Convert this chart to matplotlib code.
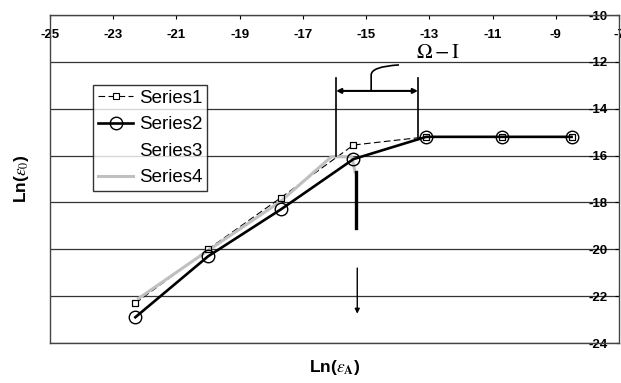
import matplotlib
matplotlib.use("Agg")
import matplotlib.pyplot as plt
from matplotlib.path import Path
from matplotlib.patches import PathPatch

plt.rcParams['font.family'] = ['Liberation Sans', 'DejaVu Sans']
plt.rcParams['mathtext.fontset'] = 'stix'

# data
x_pts = [-22.3, -20.0, -17.7, -15.4, -13.1, -10.7, -8.5]
series1 = [-22.3, -20.0, -17.8, -15.55, -15.2, -15.2, -15.2]
series2 = [-22.9, -20.3, -18.3, -16.15, -15.2, -15.2, -15.2]
x_s4 = [-22.2, -20.0, -17.7, -16.1, -15.45, -15.35]
series4 = [-22.1, -20.05, -17.95, -16.05, -16.05, -16.7]

x_ticks = [-25, -23, -21, -19, -17, -15, -13, -11, -9, -7]
y_ticks = [-24, -22, -20, -18, -16, -14, -12, -10]

fig = plt.figure(figsize=(6.21, 3.83), dpi=100)
ax = fig.add_axes([0.0805, 0.1044, 0.9163, 0.8564])
ax.set_xlim(-25, -7)
ax.set_ylim(-24, -10)

for s in ax.spines.values():
    s.set_color('#444444')
    s.set_linewidth(1.0)

ax.set_yticks(y_ticks)
ax.set_yticklabels([str(v) for v in y_ticks])
ax.set_xticks(x_ticks)
ax.set_xticklabels([str(v) for v in x_ticks])
ax.grid(axis='y', color='#333333', linewidth=0.9)
ax.set_axisbelow(True)

# x axis on top, labels inside
ax.xaxis.tick_top()
ax.tick_params(axis='x', direction='in', length=3, pad=-10, labelsize=9.5, colors='black')
for t in ax.get_xticklabels():
    t.set_fontweight('bold')
    t.set_va('top')
# y axis on the right, labels inside
ax.yaxis.tick_right()
ax.tick_params(axis='y', direction='in', length=3, pad=-8, labelsize=9.5)
for t in ax.get_yticklabels():
    t.set_fontweight('bold')
    t.set_ha('right')

ax.plot(x_pts, series1, color='black', lw=0.8, dashes=(6, 3), marker='s',
        ms=5, mfc='white', mec='black', mew=0.8, zorder=2, label='Series1')
ax.plot(x_pts, series2, color='black', lw=1.9, marker='o', ms=9,
        mfc='none', mec='black', mew=1.0, zorder=3, label='Series2')
ax.plot([], [], ls='none', label='Series3')
ax.plot(x_s4, series4, color='#c0c0c0', lw=2.2, zorder=2.5, label='Series4')
ax.plot(x_pts, series1, ls='none', marker='s', ms=5, mfc='none',
        mec='black', mew=0.8, zorder=4)

# annotations
ax.plot([-15.95, -15.95], [-12.69, -16.02], color='black', lw=1.2, zorder=3)
ax.plot([-13.36, -13.36], [-12.69, -15.2], color='black', lw=1.2, zorder=3)
ax.annotate('', xy=(-13.36, -13.24), xytext=(-15.95, -13.24),
            arrowprops=dict(arrowstyle='<|-|>', color='black', lw=1.5,
                            mutation_scale=7, shrinkA=0, shrinkB=0))
hook = Path([(-14.84, -13.2), (-14.84, -12.56), (-14.84, -12.2), (-13.96, -12.13)],
            [Path.MOVETO, Path.LINETO, Path.CURVE3, Path.CURVE3])
ax.add_patch(PathPatch(hook, fill=False, color='black', lw=1.2))
ax.text(-12.73, -11.6, r'$\Omega - \mathrm{I}$', fontsize=15,
        ha='center', va='center')
ax.plot([-15.32, -15.32], [-16.7, -19.09], color='black', lw=2.4, zorder=3)
ax.annotate('', xy=(-15.28, -22.75), xytext=(-15.28, -20.8),
            arrowprops=dict(arrowstyle='-|>', color='black', lw=1.0,
                            mutation_scale=7, shrinkA=0, shrinkB=0))

ax.set_xlabel(r'Ln($\epsilon_{\mathbf{A}}$)', fontsize=12.5, fontweight='bold', labelpad=11)
ax.xaxis.set_label_position('bottom')
ax.set_ylabel(r'Ln($\epsilon_0$)', fontsize=12.5, fontweight='bold', labelpad=14)

leg = ax.legend(loc='upper left', bbox_to_anchor=(0.0756, 0.787), borderaxespad=0,
                fontsize=13.5, frameon=True, fancybox=False, handlelength=1.9,
                handletextpad=0.3, labelspacing=0.5, borderpad=0.25)
leg.get_frame().set_edgecolor('black')
leg.get_frame().set_linewidth(1.0)

fig.savefig('out.png', dpi=100)
